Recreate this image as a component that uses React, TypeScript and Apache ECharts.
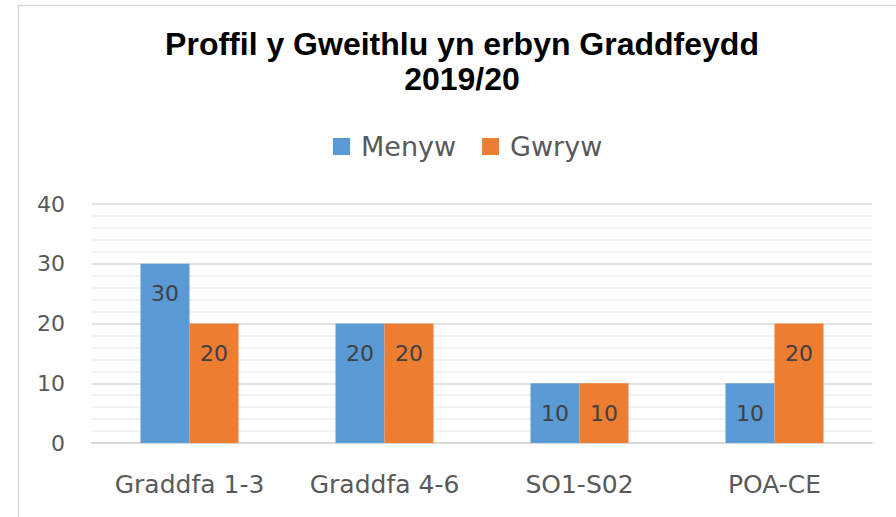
import React, { useEffect, useRef } from "react";
import * as echarts from "echarts";

const categories = ["Graddfa 1-3", "Graddfa 4-6", "SO1-S02", "POA-CE"];
const menyw = [30, 20, 10, 10];
const gwryw = [20, 20, 10, 20];
const seriesNames = ["Menyw", "Gwryw"];
const titleLines = ["Proffil y Gweithlu yn erbyn Graddfeydd", "2019/20"];

export default function App() {
  const ref = useRef<HTMLDivElement>(null);
  useEffect(() => {
    if (!ref.current) return;
    const chart = echarts.init(ref.current, undefined, { renderer: "svg" });
    const labelStyle = {
      show: true,
      position: "insideTop" as const,
      distance: 19,
      color: "#404040",
      fontSize: 22,
      fontFamily: "DejaVu Sans",
    };
    chart.setOption({
      animation: false,
      backgroundColor: "#ffffff",
      graphic: [
        {
          type: "rect",
          shape: { x: 18.5, y: 5.5, width: 900, height: 600 },
          style: { fill: "none", stroke: "#d9d9d9", lineWidth: 1.5 },
          silent: true,
        },
      ],
      title: {
        text: titleLines.join("\n"),
        left: 457,
        textAlign: "center",
        top: 21,
        textStyle: {
          fontFamily: "Liberation Sans",
          fontWeight: "bold",
          fontSize: 32,
          lineHeight: 35,
          color: "#000000",
        },
      },
      legend: {
        data: seriesNames,
        top: 128,
        left: 328,
        icon: "rect",
        itemWidth: 17,
        itemHeight: 17,
        itemGap: 26,
        textStyle: { fontSize: 27, color: "#595959", fontFamily: "DejaVu Sans", padding: [0, 0, 0, 6] },
      },
      grid: { left: 92, right: 24, top: 204, bottom: 74 },
      xAxis: {
        type: "category",
        data: categories,
        axisLine: { lineStyle: { color: "#d9d9d9", width: 2 } },
        axisTick: { show: false },
        axisLabel: { color: "#595959", fontSize: 25, fontFamily: "DejaVu Sans", margin: 29 },
      },
      yAxis: {
        type: "value",
        min: 0,
        max: 40,
        interval: 10,
        axisLine: { show: false },
        axisTick: { show: false },
        axisLabel: { color: "#595959", fontSize: 22, fontFamily: "DejaVu Sans", margin: 27 },
        splitLine: { lineStyle: { color: "#d9d9d9", width: 1.5 } },
        minorTick: { show: false, splitNumber: 5 },
        minorSplitLine: { show: true, lineStyle: { color: "#eeeeee", width: 1.5 } },
      },
      series: [
        {
          name: seriesNames[0],
          type: "bar",
          data: menyw,
          barWidth: 49,
          barGap: "0%",
          itemStyle: { color: "#5b9bd5" },
          label: labelStyle,
        },
        {
          name: seriesNames[1],
          type: "bar",
          data: gwryw,
          barWidth: 49,
          barGap: "0%",
          itemStyle: { color: "#ed7d31" },
          label: labelStyle,
        },
      ],
    });
    return () => chart.dispose();
  }, []);
  return (
    <div
      ref={ref}
      style={{ position: "absolute", left: 0, top: 0, width: 896, height: 517 }}
    />
  );
}
